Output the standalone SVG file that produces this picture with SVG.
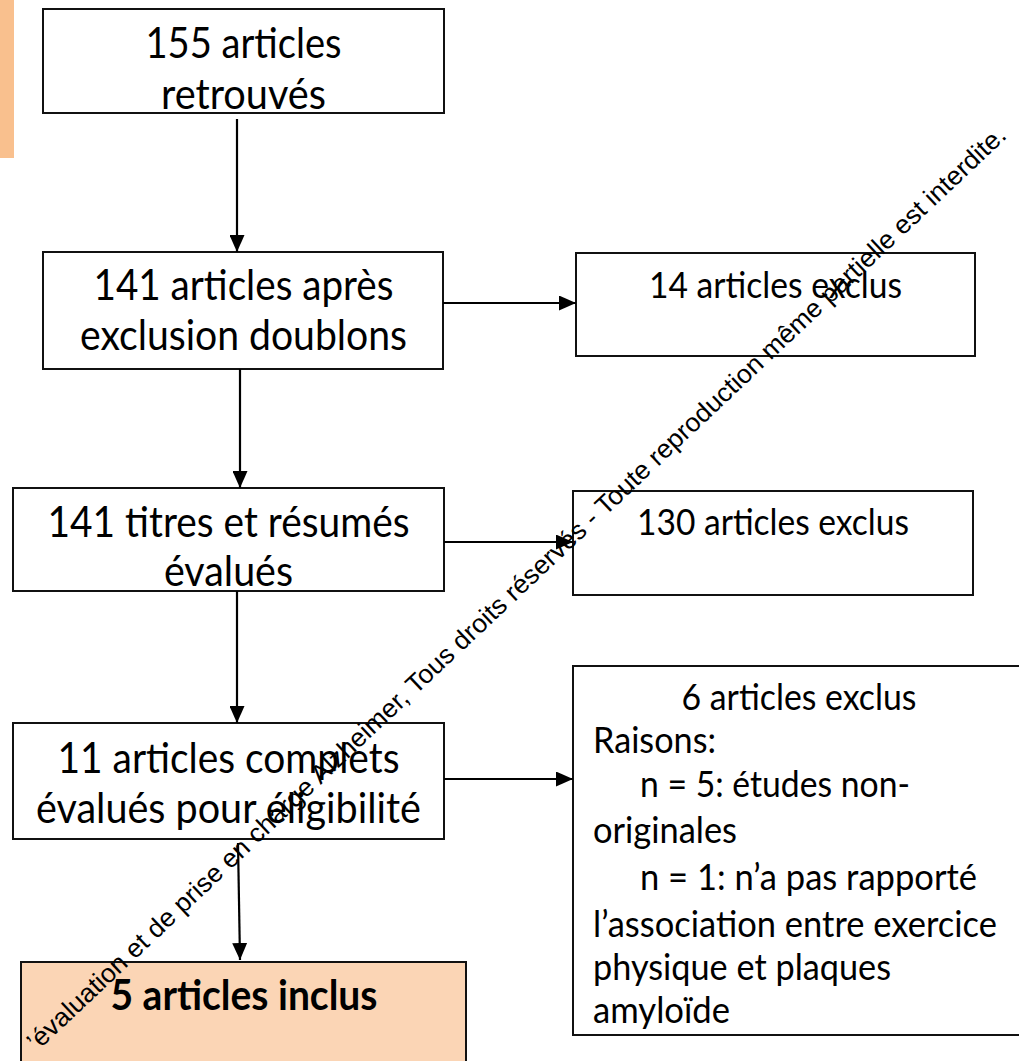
<svg xmlns="http://www.w3.org/2000/svg" width="1019" height="1061" viewBox="0 0 1019 1061">
<style>
.box{fill:#fff;stroke:#111;stroke-width:2}
.inc{fill:#fbd5b5;stroke:#111;stroke-width:2}
.t{font-family:Lato,"Liberation Sans",sans-serif;font-size:42px;fill:#000}
.r{font-family:Lato,"Liberation Sans",sans-serif;font-size:36.7px;fill:#000}
.b{font-weight:bold}
.c{text-anchor:middle}
.ln{stroke:#000;stroke-width:2.2;fill:none;marker-end:url(#ah)}
.wm{font-family:"Liberation Sans",Arial,sans-serif;font-size:26px;fill:#000}
</style>
<defs>
<marker id="ah" markerUnits="userSpaceOnUse" markerWidth="17" markerHeight="15" refX="17" refY="7.5" orient="auto">
<path d="M0,0 L17,7.5 L0,15 Z" fill="#000"/>
</marker>
</defs>
<rect width="1019" height="1061" fill="#fff"/>
<rect x="0" y="0" width="14" height="158" fill="#f9c08e"/>

<g id="n1">
<rect class="box" x="43" y="9" width="401" height="104"/>
<text class="t c" x="243.5" y="58" textLength="196" lengthAdjust="spacingAndGlyphs">155 articles</text>
<text class="t c" x="243.5" y="109" textLength="165" lengthAdjust="spacingAndGlyphs">retrouvés</text>
</g>
<g id="n2">
<rect class="box" x="43" y="252" width="400" height="117"/>
<text class="t c" x="243.5" y="300" textLength="300" lengthAdjust="spacingAndGlyphs">141 articles après</text>
<text class="t c" x="243.5" y="350" textLength="327" lengthAdjust="spacingAndGlyphs">exclusion doublons</text>
</g>
<g id="n3">
<rect class="box" x="13" y="488" width="431" height="103"/>
<text class="t c" x="228.5" y="537" textLength="362" lengthAdjust="spacingAndGlyphs">141 titres et résumés</text>
<text class="t c" x="228.5" y="586" textLength="129" lengthAdjust="spacingAndGlyphs">évalués</text>
</g>
<g id="n4">
<rect class="box" x="13" y="723" width="431" height="116"/>
<text class="t c" x="228.5" y="773" textLength="342" lengthAdjust="spacingAndGlyphs">11 articles complets</text>
<text class="t c" x="228.5" y="823" textLength="385" lengthAdjust="spacingAndGlyphs">évalués pour éligibilité</text>
</g>
<g id="n5">
<rect class="inc" x="21" y="962" width="445" height="110"/>
<text class="t c b" x="244" y="1010" textLength="267" lengthAdjust="spacingAndGlyphs">5 articles inclus</text>
</g>
<g id="n6">
<rect class="box" x="576" y="253" width="399" height="103"/>
<text class="r c" x="775.5" y="298" textLength="253" lengthAdjust="spacingAndGlyphs">14 articles exclus</text>
</g>
<g id="n7">
<rect class="box" x="573" y="491" width="400" height="104"/>
<text class="r c" x="773" y="535" textLength="272" lengthAdjust="spacingAndGlyphs">130 articles exclus</text>
</g>
<g id="n8">
<rect class="box" x="573" y="666" width="460" height="369"/>
<text class="r c" x="799" y="710" textLength="235" lengthAdjust="spacingAndGlyphs">6 articles exclus</text>
<text class="r" x="593" y="753" textLength="123" lengthAdjust="spacingAndGlyphs">Raisons:</text>
<text class="r" x="640" y="797" textLength="270" lengthAdjust="spacingAndGlyphs">n = 5: études non-</text>
<text class="r" x="593" y="843" textLength="144" lengthAdjust="spacingAndGlyphs">originales</text>
<text class="r" x="640" y="890" textLength="337" lengthAdjust="spacingAndGlyphs">n = 1: n’a pas rapporté</text>
<text class="r" x="593" y="937" textLength="404" lengthAdjust="spacingAndGlyphs">l’association entre exercice</text>
<text class="r" x="593" y="980" textLength="298" lengthAdjust="spacingAndGlyphs">physique et plaques</text>
<text class="r" x="593" y="1023" textLength="137" lengthAdjust="spacingAndGlyphs">amyloïde</text>
</g>

<g id="connectors">
<line class="ln" x1="237" y1="119" x2="237" y2="252"/>
<line class="ln" x1="240" y1="369" x2="240" y2="488"/>
<line class="ln" x1="237" y1="591" x2="237" y2="723"/>
<line class="ln" x1="238" y1="843" x2="240" y2="960"/>
<line class="ln" x1="443" y1="303" x2="576" y2="303"/>
<line class="ln" x1="444" y1="542" x2="573" y2="542"/>
<line class="ln" x1="444" y1="779" x2="573" y2="779"/>
</g>

<text class="wm" transform="translate(37,1052) rotate(-43.3)" textLength="1334" lengthAdjust="spacingAndGlyphs">’évaluation et de prise en charge Alzheimer, Tous droits réservés - Toute reproduction même partielle est interdite.</text>
</svg>
